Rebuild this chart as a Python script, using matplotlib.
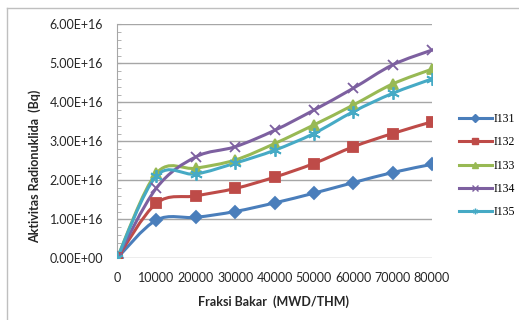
import numpy as np
import matplotlib
matplotlib.use('Agg')
import matplotlib.pyplot as plt
from matplotlib.path import Path
from matplotlib.patches import PathPatch
from matplotlib.lines import Line2D
from matplotlib.ticker import MultipleLocator, FuncFormatter
from matplotlib.font_manager import FontProperties

fraksi_bakar = [0, 10000, 20000, 30000, 40000, 50000, 60000, 70000, 80000]
i131 = [0, 0.98e16, 1.05e16, 1.20e16, 1.42e16, 1.67e16, 1.94e16, 2.20e16, 2.41e16]
i132 = [0, 1.41e16, 1.60e16, 1.79e16, 2.08e16, 2.43e16, 2.86e16, 3.20e16, 3.50e16]
i133 = [0, 2.18e16, 2.31e16, 2.52e16, 2.94e16, 3.42e16, 3.93e16, 4.47e16, 4.85e16]
i134 = [0, 1.80e16, 2.60e16, 2.86e16, 3.28e16, 3.80e16, 4.36e16, 4.96e16, 5.34e16]
i135 = [0, 2.11e16, 2.16e16, 2.44e16, 2.77e16, 3.20e16, 3.76e16, 4.23e16, 4.60e16]

seri = [
    ('I131', i131, '#4A7EBB', 'D', 6),
    ('I132', i132, '#BE4B48', 's', 7),
    ('I133', i133, '#98B954', '^', 7),
    ('I134', i134, '#7D60A0', 'x', 7),
    ('I135', i135, '#46AAC5', (6, 2, 0), 9),
]


def garis_halus(x, y):
    # kurva bezier ala "smoothed line" Excel
    p = np.column_stack([x, y]).astype(float)
    n = len(p)
    verts = [p[0]]
    codes = [Path.MOVETO]
    for i in range(n - 1):
        p0 = p[i - 1] if i > 0 else p[i]
        p1, p2 = p[i], p[i + 1]
        p3 = p[i + 2] if i + 2 < n else p[i + 1]
        verts += [p1 + (p2 - p0) / 6, p2 - (p3 - p1) / 6, p2]
        codes += [Path.CURVE4] * 3
    return Path(verts, codes)


fig = plt.figure(figsize=(5.19, 3.2), dpi=100)
ax = fig.add_axes([117 / 519, 1 - 258.3 / 320, 315 / 519, 234 / 320])

# bingkai chart
fig.add_artist(Line2D([7 / 519, 1], [1 - 8 / 320] * 2, color='#BFBFBF', lw=1))
fig.add_artist(Line2D([7 / 519] * 2, [0, 1 - 8 / 320], color='#BFBFBF', lw=1))

handles = []
for nama, val, warna, mk, ms in seri:
    ax.add_patch(PathPatch(garis_halus(fraksi_bakar, val), fc='none', ec=warna,
                           lw=2.2, zorder=3, capstyle='round', joinstyle='round'))
    ax.plot(fraksi_bakar, val, ls='none', marker=mk, ms=ms, color=warna,
            mec=warna, mew=1.3, zorder=4)
    handles.append(Line2D([], [], color=warna, lw=2.2, marker=mk, ms=4, mew=1))

ax.set_xlim(0, 80000)
ax.set_ylim(0, 6e16)
ax.set_xticks(fraksi_bakar)
ax.yaxis.set_major_locator(MultipleLocator(1e16))
ax.yaxis.set_minor_locator(MultipleLocator(0.2e16))
ax.yaxis.set_major_formatter(FuncFormatter(lambda v, p: '{:.2E}'.format(v)))
ax.grid(axis='y', which='major', color='#A6A6A6', lw=1)
ax.set_axisbelow(True)
for s in ['top', 'right', 'bottom']:
    ax.spines[s].set_visible(False)
ax.spines['left'].set_color('#A6A6A6')
ax.tick_params(axis='y', which='both', direction='in', length=3, color='#A6A6A6',
               pad=10, labelsize=9, labelcolor='#262626')
ax.tick_params(axis='x', length=0, pad=10, labelsize=9, labelcolor='#262626')
for t in ax.get_xticklabels() + ax.get_yticklabels():
    t.set_fontfamily('Lato')

fig.text(0.067, 0.48, 'Aktivitas Radionuklida  (Bq)', rotation=90, ha='center',
         va='center', fontsize=9, fontweight='bold', family='Lato', color='#262626')
fig.text(274 / 519, 1 - 301.7 / 320, 'Fraksi Bakar  (MWD/THM)', ha='center',
         va='center', fontsize=9, fontweight='bold', family='Lato', color='#262626')

leg = ax.legend(handles, [s[0] for s in seri], loc='center left',
                bbox_to_anchor=(453 / 519, 1 - 165.7 / 320), bbox_transform=fig.transFigure,
                frameon=False, handlelength=2.8, handletextpad=0.1, labelspacing=0.95,
                borderpad=0, prop=FontProperties(family='Liberation Serif', size=8.5))

fig.savefig('out.png', dpi=100)
